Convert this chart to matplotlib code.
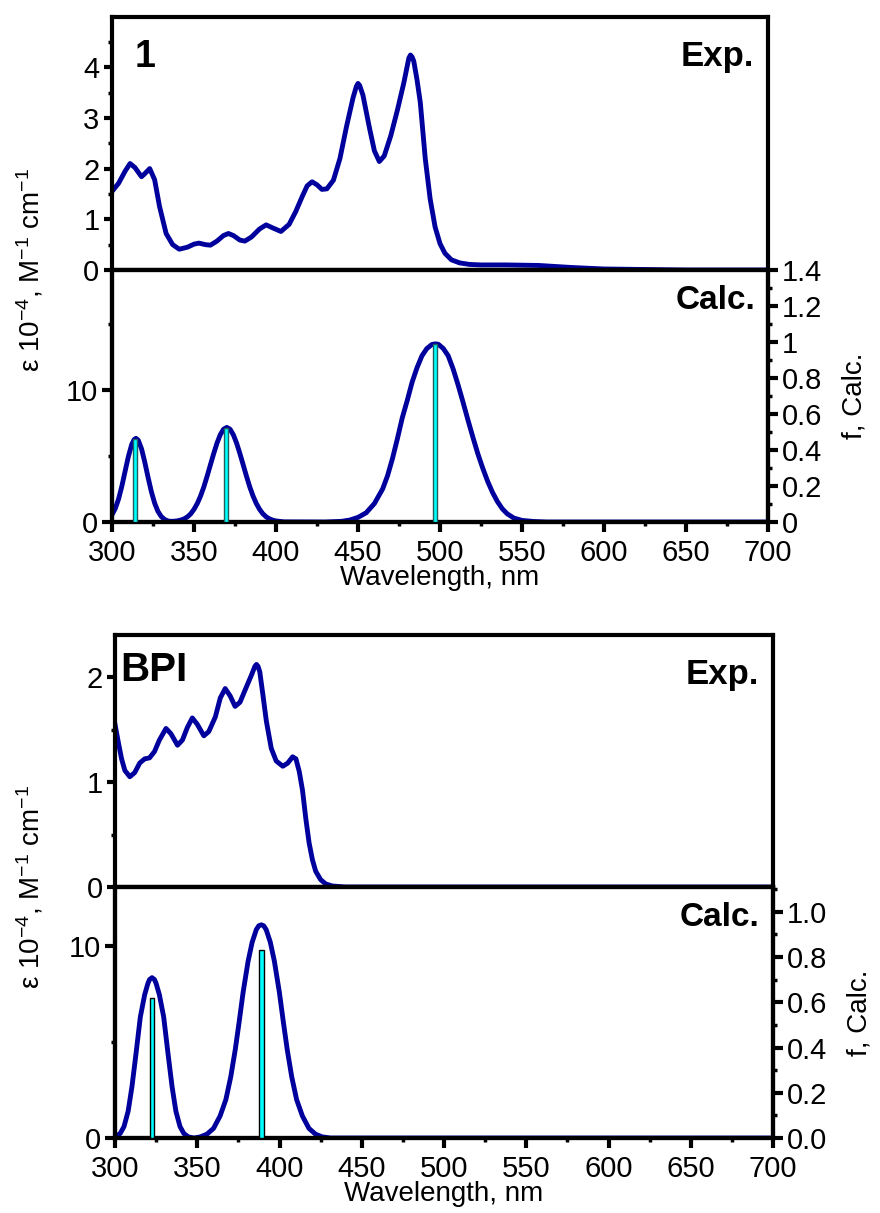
#!/usr/bin/env python3
"""
Absorption spectra of 1 and BPI: experimental vs calculated (TD-DFT) spectra.
"""

import matplotlib
matplotlib.use("Agg")
import matplotlib.pyplot as plt
from matplotlib.ticker import MultipleLocator, FuncFormatter

plt.rcParams["font.family"] = ["Liberation Sans", "DejaVu Sans"]
plt.rcParams["mathtext.default"] = "regular"

# ---- compound 1, experimental (eps * 1e-4) ----
wl_exp_1 = [300, 304, 308, 311, 314, 318, 320, 323, 326, 329, 333, 337, 341, 346,
            350, 353, 357, 360, 364, 368, 371, 374, 378, 381, 385, 390, 394, 398,
            403, 408, 412, 416, 419, 422, 425, 428, 431, 435, 439, 443, 447, 449,
            450, 451, 453, 457, 460, 463, 466, 470, 474, 478, 480, 481, 482, 483,
            484, 486, 488, 491, 494, 497, 500, 503, 507, 512, 518, 525, 540, 560,
            580, 600, 650, 700]
eps_exp_1 = [1.55, 1.71, 1.95, 2.10, 2.02, 1.84, 1.90, 2.00, 1.78, 1.25, 0.72, 0.50,
             0.41, 0.45, 0.51, 0.53, 0.50, 0.49, 0.57, 0.68, 0.72, 0.68, 0.59, 0.57,
             0.65, 0.81, 0.89, 0.83, 0.76, 0.90, 1.15, 1.45, 1.66, 1.74, 1.68, 1.59,
             1.60, 1.77, 2.20, 2.83, 3.40, 3.62, 3.68, 3.64, 3.45, 2.80, 2.35, 2.14,
             2.25, 2.65, 3.15, 3.70, 4.02, 4.18, 4.24, 4.20, 4.12, 3.75, 3.30, 2.20,
             1.40, 0.85, 0.52, 0.33, 0.20, 0.14, 0.11, 0.10, 0.10, 0.09, 0.05, 0.02,
             0.0, 0.0]

# ---- compound 1, calculated spectrum ----
wl_calc_1 = [300, 302, 304, 306, 308, 310, 312, 313.5, 314.6, 316, 318, 320, 322, 324,
             326, 328, 330, 332, 334, 336, 338, 340, 342, 344, 346, 348, 350, 352,
             354, 356, 358, 360, 362, 364, 366, 368, 370, 372, 374, 376, 378, 380,
             382, 384, 386, 388, 390, 392, 394, 396, 398, 400, 405, 430, 440, 445,
             450, 455, 460, 465, 468, 471, 474, 477, 480, 483, 486, 489, 492, 495,
             497, 499, 502, 505, 508, 511, 514, 517, 520, 523, 526, 529, 532, 535,
             538, 541, 545, 550, 557, 565, 700]
eps_calc_1 = [0.55, 1.02, 1.74, 2.71, 3.85, 4.97, 5.87, 6.25, 6.34, 6.20, 5.55, 4.53,
              3.38, 2.30, 1.43, 0.81, 0.42, 0.20, 0.08, 0.05, 0.06, 0.09, 0.15, 0.24,
              0.39, 0.62, 0.96, 1.40, 1.97, 2.66, 3.47, 4.33, 5.18, 5.97, 6.61, 7.03,
              7.17, 7.03, 6.61, 5.97, 5.18, 4.33, 3.47, 2.66, 1.97, 1.40, 0.96, 0.62,
              0.39, 0.24, 0.14, 0.08, 0.01, 0.0, 0.05, 0.15, 0.35, 0.70, 1.40, 2.50,
              3.50, 4.80, 6.30, 7.90, 9.20, 10.6, 11.7, 12.6, 13.15, 13.45, 13.5,
              13.47, 13.15, 12.6, 11.6, 10.4, 9.1, 7.75, 6.45, 5.2, 4.1, 3.1, 2.25,
              1.55, 1.0, 0.62, 0.3, 0.12, 0.04, 0.0, 0.0]
stick_wl_1 = [314, 369.5, 497]
stick_f_1 = [0.46, 0.52, 0.99]

# ---- BPI, experimental ----
wl_exp_bpi = [300, 302, 304, 306, 309, 312, 315, 318, 321, 324, 327, 331, 334, 338,
              341, 344, 347, 350, 354, 357, 361, 364, 367, 370, 373, 376, 380, 383,
              385, 386, 387, 388, 390, 392, 395, 398, 402, 405, 408, 410, 412, 414,
              416, 418, 420, 422, 425, 428, 432, 440, 700]
eps_exp_bpi = [1.55, 1.38, 1.22, 1.11, 1.05, 1.09, 1.18, 1.22, 1.23, 1.29, 1.40, 1.51,
               1.46, 1.35, 1.40, 1.52, 1.61, 1.55, 1.44, 1.48, 1.62, 1.80, 1.89, 1.82,
               1.72, 1.76, 1.91, 2.02, 2.10, 2.12, 2.10, 2.05, 1.82, 1.58, 1.32, 1.20,
               1.15, 1.18, 1.24, 1.22, 1.10, 0.92, 0.65, 0.42, 0.26, 0.15, 0.07, 0.03,
               0.01, 0.0, 0.0]

# ---- BPI, calculated spectrum ----
wl_calc_bpi = [300, 303.2, 305.5, 308, 310.3, 312.5, 315.4, 318, 320, 321, 322.5, 324,
               325, 327, 329.6, 332.5, 334.7, 337, 339.5, 341.8, 344.5, 348, 351.9,
               355.9, 359.9, 363.9, 367.4, 370.4, 373.1, 375.4, 377.9, 380.9, 383.4,
               385.9, 387.4, 388.9, 390.4, 391.9, 394.4, 396.9, 399.9, 402.4, 404.7,
               407.4, 410.4, 413.9, 417.9, 421.9, 425.9, 430.9, 700]
eps_calc_bpi = [0.05, 0.24, 0.6, 1.4, 2.67, 4.2, 6.3, 7.45, 8.05, 8.25, 8.35, 8.25,
                8.05, 7.45, 6.3, 4.2, 2.67, 1.4, 0.6, 0.24, 0.06, 0.0, 0.06, 0.2, 0.5,
                1.15, 2.0, 3.2, 4.6, 6.0, 7.6, 9.2, 10.2, 10.85, 11.05, 11.1, 11.05,
                10.85, 10.2, 9.2, 7.6, 6.0, 4.6, 3.2, 2.0, 1.15, 0.5, 0.2, 0.06, 0.0,
                0.0]
stick_wl_bpi = [322.5, 388.9]
stick_f_bpi = [0.62, 0.83]

LINE_COLOR = "#00009C"
W, H = 880, 1213
fig = plt.figure(figsize=(W / 100, H / 100), dpi=100)


def px_axes(left, top, right, bottom):
    return fig.add_axes([left / W, 1 - bottom / H, (right - left) / W, (bottom - top) / H])


def style_spines(ax):
    for s in ax.spines.values():
        s.set_linewidth(3)


def draw_block(box, wl_e, eps_e, wl_c, eps_c, st_wl, st_f, exp_lim, calc_lim, f_lim,
               f_fmt, name, name_pos, name_size, st_width, st_edge):
    left, top, mid, right, bottom = box
    ax_e = px_axes(left, top, right, mid)
    ax_c = px_axes(left, mid, right, bottom)

    # experimental panel
    ax_e.plot(wl_e, eps_e, color=LINE_COLOR, linewidth=3.5, solid_joinstyle="round")
    ax_e.set_xlim(300, 700)
    ax_e.set_ylim(*exp_lim)
    ax_e.yaxis.set_major_locator(MultipleLocator(1))
    ax_e.yaxis.set_minor_locator(MultipleLocator(0.5))
    ax_e.tick_params(axis="x", which="both", bottom=False, labelbottom=False)
    ax_e.tick_params(axis="y", which="major", direction="out", length=6, width=3,
                     labelsize=21, pad=3)
    ax_e.tick_params(axis="y", which="minor", direction="out", length=3, width=2.5)
    style_spines(ax_e)
    ax_e.text(name_pos[0], name_pos[1], name, transform=ax_e.transAxes,
              fontsize=name_size, fontweight="bold", ha="left", va="center")
    ax_e.text(0.978, 0.845, "Exp.", transform=ax_e.transAxes, fontsize=25,
              fontweight="bold", ha="right", va="center")

    # calculated panel
    ax_c.plot(wl_c, eps_c, color=LINE_COLOR, linewidth=3.5, solid_joinstyle="round")
    ax_c.set_xlim(300, 700)
    ax_c.set_ylim(*calc_lim)
    ax_c.set_yticks([0, 10])
    ax_c.yaxis.set_minor_locator(MultipleLocator(5))
    ax_c.xaxis.set_major_locator(MultipleLocator(50))
    ax_c.xaxis.set_minor_locator(MultipleLocator(25))
    ax_c.tick_params(axis="y", which="major", direction="out", length=7, width=3,
                     labelsize=21, pad=3)
    ax_c.tick_params(axis="x", which="major", direction="out", length=7, width=3,
                     labelsize=21, pad=5)
    ax_c.tick_params(axis="both", which="minor", direction="out", length=3, width=2.5)
    ax_c.set_xlabel("Wavelength, nm", fontsize=20, labelpad=-1)
    style_spines(ax_c)
    ax_c.text(0.98, 0.88, "Calc.", transform=ax_c.transAxes, fontsize=24,
              fontweight="bold", ha="right", va="center")

    # oscillator strengths on the right axis
    ax_f = ax_c.twinx()
    ax_f.bar(st_wl, st_f, width=st_width, color="#00FFFF", edgecolor=st_edge,
             linewidth=1.0, zorder=3)
    ax_f.set_ylim(*f_lim)
    ax_f.yaxis.set_major_locator(MultipleLocator(0.2))
    ax_f.yaxis.set_minor_locator(MultipleLocator(0.1))
    ax_f.yaxis.set_major_formatter(FuncFormatter(f_fmt))
    ax_f.tick_params(axis="y", which="major", direction="out", length=7, width=3,
                     labelsize=21, pad=3)
    ax_f.tick_params(axis="y", which="minor", direction="out", length=3, width=2.5)
    ax_f.set_ylabel("f, Calc.", fontsize=20, labelpad=14)
    style_spines(ax_f)

    fig.text(30 / W, 1 - mid / H, r"ε 10$^{-4}$, M$^{-1}$ cm$^{-1}$", fontsize=20,
             rotation=90, ha="center", va="center")


draw_block((112, 17, 270, 768, 522), wl_exp_1, eps_exp_1, wl_calc_1, eps_calc_1,
           stick_wl_1, stick_f_1, (0, 4.99), (0, 19.1), (0, 1.4),
           lambda v, p: f"{v:g}", "1", (0.035, 0.84), 27, 2.0, "#1F5F5F")

draw_block((115, 635, 887, 773, 1138), wl_exp_bpi, eps_exp_bpi, wl_calc_bpi,
           eps_calc_bpi, stick_wl_bpi, stick_f_bpi, (0, 2.4), (0, 13.07), (0, 1.11),
           lambda v, p: f"{v:.1f}", "BPI", (0.008, 0.86), 29, 3.0, "black")

plt.savefig("out.png", dpi=100)
